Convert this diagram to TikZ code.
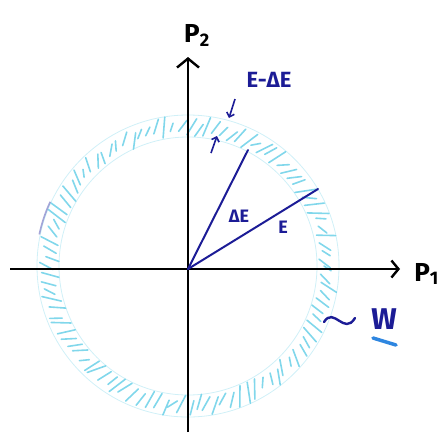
\documentclass[tikz,border=0pt]{standalone}
\usepackage{fontspec}
\setmainfont{Fira Sans}
\usetikzlibrary{arrows.meta}
\definecolor{ink}{HTML}{1C1C96}
\definecolor{ringc}{HTML}{62CDE6}
\definecolor{uline}{HTML}{2E86E0}
\begin{document}
\begin{tikzpicture}[x=1pt,y=-1pt,
  axis/.style={line width=2.6pt, black},
  vec/.style={line width=2pt, ink, line cap=round},
  lbl/.style={text=ink, inner sep=0, font=\fontsize{18}{18}\selectfont\bfseries},
  axlbl/.style={text=black, inner sep=0, font=\fontsize{26}{26}\selectfont\bfseries},
  hatch/.style={ringc, line width=1.6pt, line cap=round, opacity=0.8},
  small arrow/.style={ink, line width=1.6pt, -{Straight Barb[length=4pt,width=8pt]}}]
\useasboundingbox (0,0) rectangle (441,432);
\coordinate (C) at (188,266);
\coordinate (O) at (188,269);
% ring
\draw[ringc, line width=0.8pt, opacity=0.3, shift={(C)}] (0,0) circle (129);
\draw[ringc, line width=0.8pt, opacity=0.3, shift={(C)}] (0,0) circle (151);
\pgfmathsetseed{7}
\foreach \a in {0,3.5,...,357} {
  \pgfmathsetmacro{\ri}{129+8*rnd}
  \pgfmathsetmacro{\ro}{142+9*rnd}
  \pgfmathsetmacro{\da}{1.5+2.5*rnd}
  \draw[hatch, shift={(C)}] (\a:\ri) -- (\a+\da:\ro);
}
\draw[color=blue!40!gray, opacity=0.5, line width=1.6pt, shift={(C)}] (192:152) arc (192:205:152);
% axes
\coordinate (xl) at (10,269);
\coordinate (xr) at (400,269);
\coordinate (yb) at (188,432);
\coordinate (yt) at (188,57);
\draw[axis, -{Straight Barb[length=7pt,width=17pt,line width=2.4pt]}] (xl) -- (xr);
\draw[axis, -{Straight Barb[length=9pt,width=22pt,line width=2.4pt]}] (yb) -- (yt);
\node[axlbl] (p2) at (197,35) {P\textsubscript{2}};
\node[axlbl, anchor=east] (p1) at (439,274) {P\textsubscript{1}};
% vectors
\coordinate (A) at (248,150);
\coordinate (B) at (318,189);
\draw[vec] (O) -- (A);
\draw[vec] (O) -- (B);
\node[lbl] (dE) at (239,216) {ΔE};
\node[lbl] (E) at (283,227) {E};
\node[lbl, font=\fontsize{22}{22}\selectfont\bfseries] (EdE) at (269,80) {E-ΔE};
% small arrows
\coordinate (a1s) at (235,99);
\coordinate (a1e) at (229,118);
\coordinate (a2s) at (211,153);
\coordinate (a2e) at (217,136);
\draw[small arrow] (a1s) -- (a1e);
\draw[small arrow] (a2s) -- (a2e);
% ~ W
\coordinate (t1) at (324,322);
\coordinate (t2) at (355,318);
\draw[ink, line width=2.4pt, line cap=round] (t1) .. controls (334,306) and (344,336) .. (t2);
\node[lbl, font=\fontsize{30}{30}\selectfont\bfseries] (W) at (384,319) {W};
\coordinate (u1) at (373,338);
\coordinate (u2) at (396,345);
\draw[uline, line width=3.5pt, line cap=round] (u1) -- (u2);
\end{tikzpicture}
\end{document}
